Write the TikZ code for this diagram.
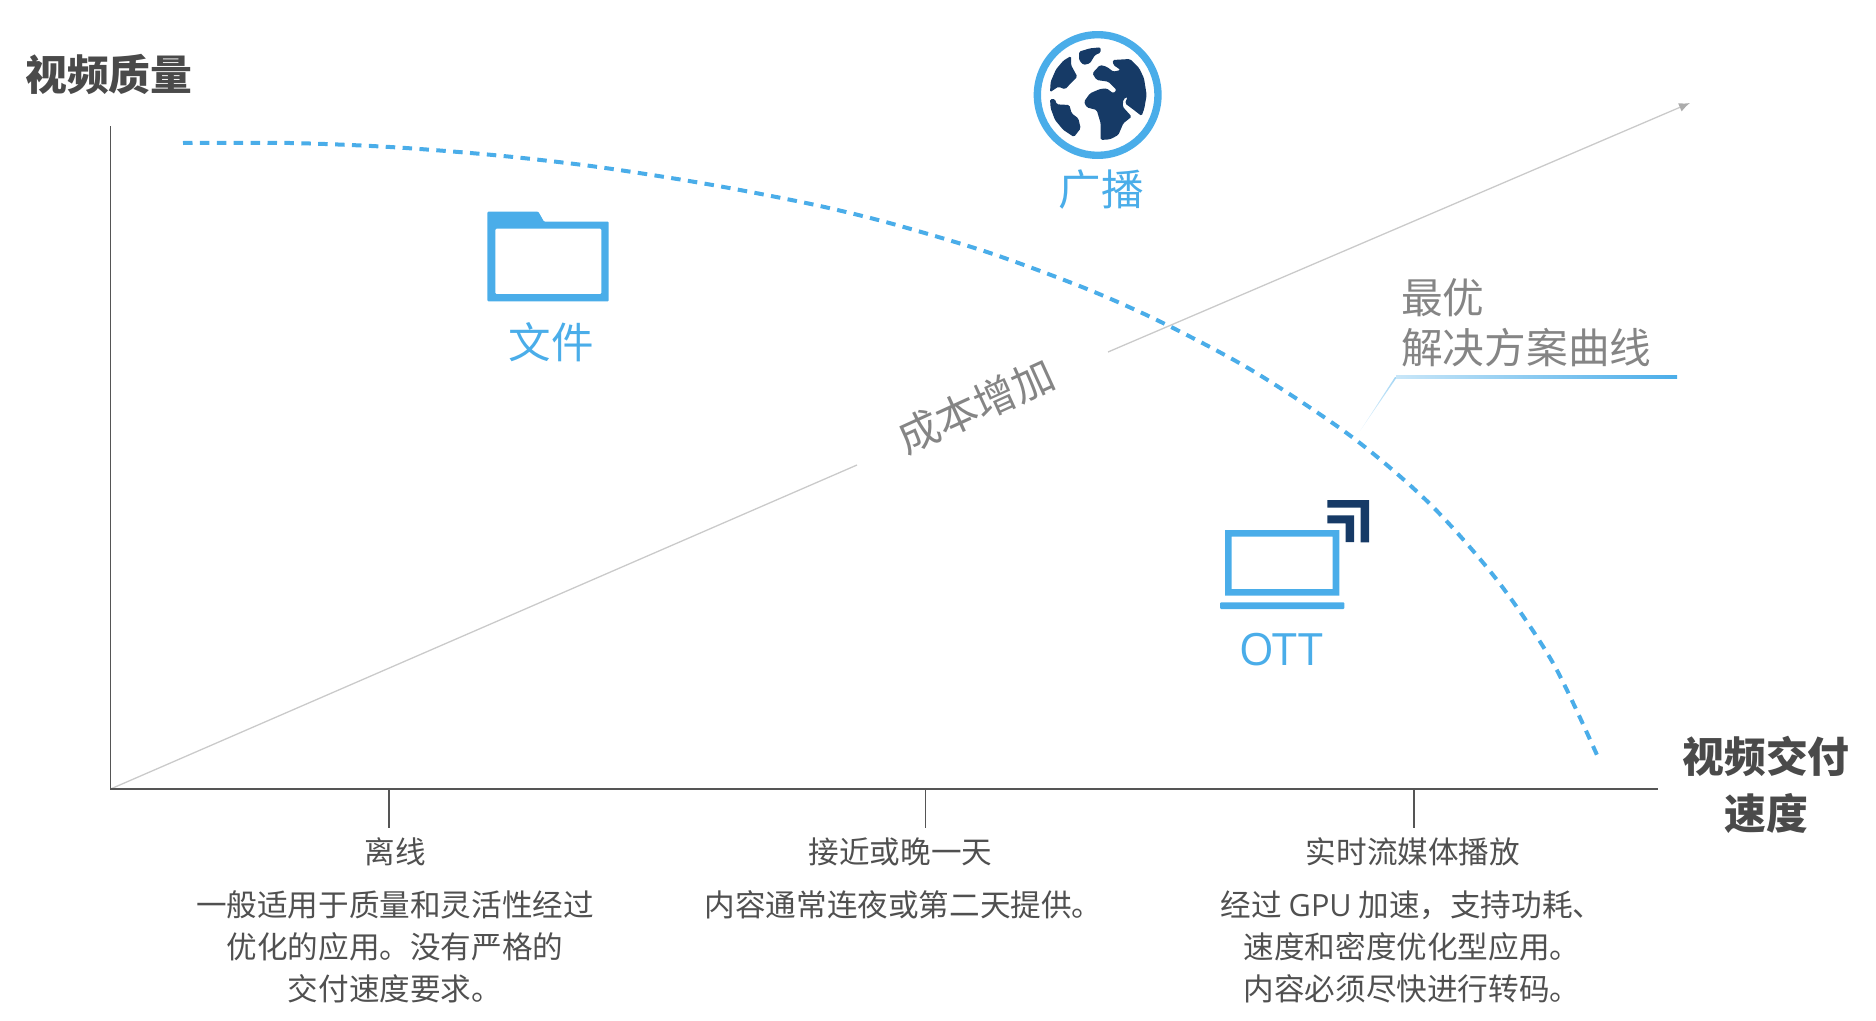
\documentclass[tikz,border=0pt]{standalone}
\usepackage{fontspec}
\usetikzlibrary{arrows.meta}
\setmainfont{Noto Sans CJK SC}
\newfontfamily\latinf{Open Sans}
\definecolor{skyb}{HTML}{4AADE9}
\definecolor{navyb}{HTML}{163A66}
\definecolor{darkt}{HTML}{4A4A4A}
\definecolor{bodyt}{HTML}{505050}
\definecolor{midt}{HTML}{858585}
\definecolor{axisc}{HTML}{555555}
\definecolor{costc}{HTML}{CACACA}
\tikzset{
  body/.style={font=\fontsize{30.6}{42}\selectfont, text=bodyt, align=center, inner sep=0pt},
  axtitle/.style={font=\fontsize{41.8}{57}\selectfont\bfseries, text=darkt, align=center, inner sep=0pt},
  cat/.style={font=\fontsize{42.5}{50}\selectfont, text=skyb, align=center, inner sep=0pt},
  note/.style={font=\fontsize{41.7}{50}\selectfont, text=midt, align=left, inner sep=0pt},
  axisline/.style={draw=axisc, line width=1.5pt},
  tickline/.style={draw=axisc, line width=1.1pt},
  costline/.style={draw=costc, line width=1.3pt},
  icon/.style={fill=skyb, draw=none},
  darkicon/.style={fill=navyb, draw=none},
  zoomed/.style={x=0.33333pt, y=-0.33333pt}
}
\begin{document}
\begin{tikzpicture}[x=1pt,y=-1pt]
\useasboundingbox (0,0) rectangle (1876,1020);
% axes
\coordinate (o) at (110.5,789);
\coordinate (ytop) at (110.5,126);
\coordinate (xend) at (1658,789);
% cost line
\coordinate (c1) at (857,465);
\coordinate (c2) at (1108,352);
\coordinate (ctip) at (1690,103);
\draw[costline] (o) -- (c1);
\draw[costline, -{Latex[length=11pt,width=9pt,color=costc!85!black]}] (c2) -- (ctip);
\node[note, rotate=24.5] (cost) at (976,406) {成本增加};
\draw[axisline] (ytop) -- (o) -- (xend);
% ticks
\foreach \n/\x in {t1/389,t2/925.6,t3/1414}{
  \coordinate (\n a) at (\x,789);
  \coordinate (\n b) at (\x,828);
  \draw[tickline] (\n a) -- (\n b);
}
% optimal curve
\draw[skyb, line width=4pt, dash pattern=on 9.5pt off 7.4pt]
  plot[smooth, tension=0.5] coordinates {(183,143) (290,143) (390,147) (493,155) (587,165.5) (671,178) (740,190) (820,206) (893,224) (990,253) (1087,289) (1163,323) (1253,371) (1352,437) (1430,504) (1497,580) (1553,663) (1597,755)};
% leader to the curve
\coordinate (l0) at (1360,431);
\coordinate (l1) at (1396,377);
\coordinate (l2) at (1677,377);
\shade[bottom color=skyb!12, top color=skyb!50] (l0) -- ([xshift=-1pt]l1) -- ([xshift=1pt]l1) -- cycle;
\shade[left color=skyb!30, right color=skyb] ([yshift=-1.3pt]l1) rectangle ([yshift=1.5pt]l2);
% axis titles
\node[axtitle] (ylabel) at (109,74) {视频质量};
\node[axtitle] (xlabel) at (1766,785) {视频交付\\速度};
% category labels
\node[cat] (wenjian) at (551,342.5) {文件};
\node[cat] (guangbo) at (1101,189.5) {广播};
\node[cat, font=\fontsize{44.5}{50}\selectfont\latinf] (ott) at (1281,650) {OTT};
% note
\node[note, anchor=west] (zuiyou) at (1401,297.5) {最优};
\node[note, anchor=west] (jiejue) at (1401,347.5) {解决方案曲线};
% bottom text
\node[body] (h1) at (395,851.5) {离线};
\node[body] (b1) at (395,946.5) {一般适用于质量和灵活性经过\\优化的应用。没有严格的\\交付速度要求。};
\node[body] (h2) at (900.5,851.5) {接近或晚一天};
\node[body] (b2) at (903.5,904.5) {内容通常连夜或第二天提供。};
\node[body] (h3) at (1413,851.5) {实时流媒体播放};
\node[body] (b3) at (1412,946.5) {经过 {\latinf GPU} 加速，支持功耗、\\速度和密度优化型应用。\\内容必须尽快进行转码。};
% globe
\begin{scope}[shift={(1000,10)}, zoomed]
  \fill[skyb, even odd rule] (293,255) circle (192) (293,255) circle (170);
  \begin{scope}[navyb]
  \fill[rounded corners=1.5pt] (237,125) -- (270,115) -- (302,112) -- (302,128) -- (285,135) -- (270,160) -- (250,165) -- (237,150) -- cycle;
  \fill[rounded corners=1.5pt] (150,247) -- (152,215) -- (168,178) -- (190,152) -- (213,138) -- (213,165) -- (232,200) -- (195,238) -- (175,230) -- cycle;
  \fill[rounded corners=1.5pt] (150,267) -- (165,267) -- (170,283) -- (208,285) -- (215,310) -- (235,325) -- (242,355) -- (222,381) -- (190,360) -- (165,330) -- (152,295) -- cycle;
  \fill[rounded corners=1.5pt] (338,150) -- (390,147) -- (418,175) -- (432,205) -- (440,255) -- (433,295) -- (425,318) -- (395,295) -- (375,280) -- (383,260) -- (370,268) -- (368,290) -- (395,320) -- (370,340) -- (355,375) -- (330,388) -- (302,390) -- (302,340) -- (290,300) -- (260,292) -- (252,275) -- (270,250) -- (300,237) -- (320,235) -- (340,250) -- (350,240) -- (325,215) -- (290,210) -- (277,190) -- (300,165) -- (320,170) -- (340,185) -- (362,180) -- (340,165) -- cycle;
  \end{scope}
\end{scope}
% folder
\begin{scope}[shift={(470,190)}, zoomed]
  \fill[icon, even odd rule, rounded corners=1pt] (52,65) -- (205,65) -- (222,95) -- (416,95) -- (416,334) -- (52,334) -- cycle (76,116) rectangle (394,312);
\end{scope}
% laptop
\begin{scope}[shift={(1200,480)}, zoomed]
  \fill[icon, even odd rule] (75,150) rectangle (418,347) (95,170) rectangle (398,327);
  \fill[icon, rounded corners=1pt] (60,367) rectangle (433,387);
  \fill[darkicon] (382,60) -- (507,60) -- (507,187) -- (482,187) -- (482,83) -- (382,83) -- cycle;
  \fill[darkicon] (382,106) -- (462,106) -- (462,186) -- (437,186) -- (437,130) -- (382,130) -- cycle;
\end{scope}
\end{tikzpicture}
\end{document}
